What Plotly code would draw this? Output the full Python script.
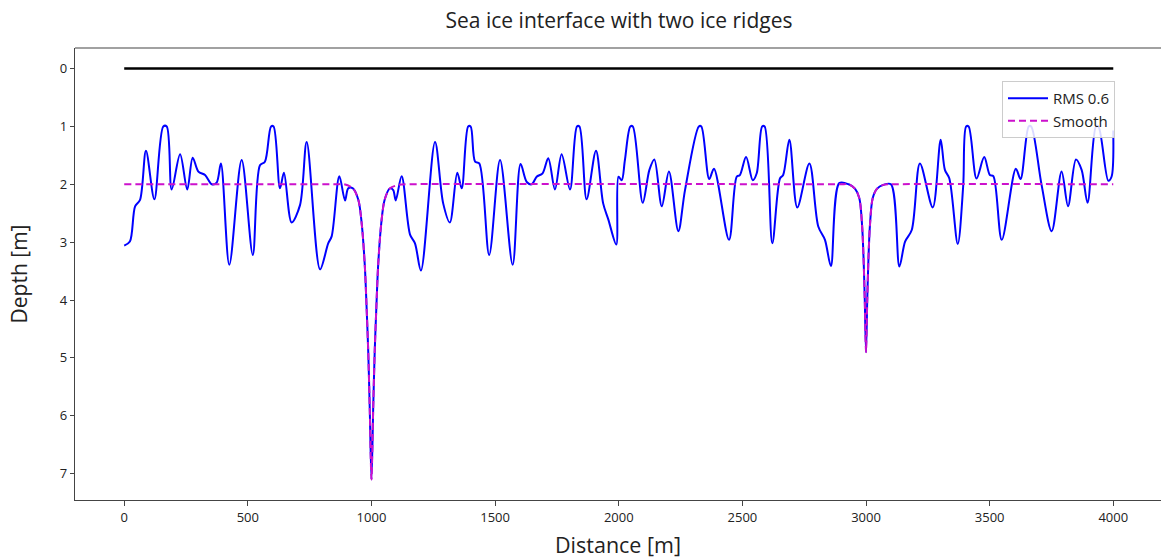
import plotly.graph_objects as go

# Sea-ice surface (depth 0)
surface_distance = [0, 4000]
surface_depth = [0, 0]

# Rough interface, RMS 0.6 (distance in m, depth in m)
rms_distance = [
    0, 23, 44, 64, 88, 122, 158, 172, 192, 226, 255, 277, 300, 327, 354, 374, 391,
    425, 475, 520, 549, 569, 594, 604, 630, 646, 677, 711, 738, 792, 825, 839, 870,
    893, 906,
    925, 947, 961, 973, 980, 987, 993, 1000, 1007, 1013, 1020, 1027, 1039, 1053, 1075,
    1088, 1098, 1122, 1156, 1176, 1200, 1257, 1290, 1317, 1347, 1365, 1391, 1401,
    1419, 1436, 1476, 1520, 1571, 1603, 1628, 1648, 1668, 1692, 1715, 1742, 1769,
    1803, 1831, 1841, 1870, 1908, 1937, 1958, 1990, 1999, 2012, 2025, 2047, 2057,
    2097, 2124, 2144, 2174, 2203, 2241, 2268, 2324, 2334, 2366, 2385, 2446, 2477,
    2490, 2515, 2542, 2558, 2580, 2590, 2621, 2652, 2665, 2690, 2722, 2771, 2807,
    2834, 2858, 2892, 2930,
    2956, 2973, 2984, 2990, 2995, 3000, 3005, 3010, 3016, 3027, 3044, 3070,
    3101, 3135, 3158, 3185, 3218, 3270, 3302, 3319, 3337, 3371, 3393, 3405, 3415,
    3447, 3478, 3501, 3515, 3549, 3606, 3625, 3658, 3668, 3710, 3751, 3791, 3817,
    3849, 3872, 3896, 3930, 3940, 3980, 3993, 4000,
]
rms_depth = [
    3.06, 2.99, 2.38, 2.27, 1.42, 2.26, 1.0, 1.0, 2.09, 1.48, 2.09, 1.54, 1.78, 1.84, 2.0, 1.97, 1.64,
    3.39, 1.58, 3.22, 1.67, 1.61, 1.0, 1.0, 2.07, 1.80, 2.66, 2.36, 1.27, 3.47, 3.02, 2.90, 1.86,
    2.28, 2.07,
    2.07, 2.27, 2.70, 3.4, 4.1, 4.9, 5.87, 7.1, 5.87, 4.9, 4.1, 3.4, 2.70, 2.27, 2.07,
    2.1, 2.28, 1.86, 2.87, 3.02, 3.49, 1.27, 2.33, 2.66, 1.80, 2.07, 1.0, 1.0,
    1.61, 1.64, 3.22, 1.58, 3.39, 1.65, 1.96, 2.0, 1.87, 1.81, 1.55, 2.09, 1.48,
    2.09, 1.0, 1.0, 2.26, 1.42, 2.33, 2.61, 3.04, 1.87, 1.93, 1.58, 1.0, 1.0,
    2.32, 1.75, 1.57, 2.38, 1.78, 2.81, 2.1, 1.0, 1.0, 1.91, 1.73, 2.96, 1.87,
    1.84, 1.53, 1.93, 1.81, 1.0, 1.0, 3.02, 1.90, 1.84, 1.23, 2.40, 1.64, 2.73,
    2.96, 3.41, 1.98, 2.0,
    2.08, 2.24, 2.70, 3.27, 4.0, 4.9, 4.0, 3.27, 2.70, 2.24, 2.08, 2.01,
    2.0, 3.42, 2.99, 2.79, 1.64, 2.40, 1.23, 1.75, 1.90, 3.03, 2.03, 1.0, 1.0,
    1.90, 1.53, 1.84, 1.86, 2.96, 1.73, 1.91, 1.0, 1.0, 2.01, 2.81, 1.78, 2.38,
    1.57, 1.75, 2.32, 1.0, 1.0, 1.94, 1.87, 1.07,
]

# Smooth interface with two ridges
smooth_distance = [
    0, 850, 890, 925, 947, 961, 973, 980, 987, 993, 1000, 1007, 1013, 1020, 1027,
    1039, 1053, 1075, 1110, 1150, 2850, 2900, 2930, 2956, 2973, 2984, 2990, 2995,
    3000, 3005, 3010, 3016, 3027, 3044, 3070, 3110, 4000,
]
smooth_depth = [
    2.0, 2.0, 2.0, 2.07, 2.27, 2.70, 3.4, 4.1, 4.9, 5.87, 7.1, 5.87, 4.9, 4.1, 3.4,
    2.70, 2.27, 2.07, 2.01, 2.0, 2.0, 2.0, 2.0, 2.08, 2.24, 2.70, 3.27, 4.0,
    4.9, 4.0, 3.27, 2.70, 2.24, 2.08, 2.01, 2.0, 2.0,
]

x_ticks = [0, 500, 1000, 1500, 2000, 2500, 3000, 3500, 4000]
y_ticks = [0, 1, 2, 3, 4, 5, 6, 7]

FONT = "Open Sans"
AXIS_COLOR = "#444444"
TEXT_COLOR = "#222222"

fig = go.Figure()
fig.add_trace(go.Scatter(
    x=surface_distance, y=surface_depth, mode="lines",
    line=dict(color="black", width=2.5), showlegend=False, hoverinfo="skip",
))
fig.add_trace(go.Scatter(
    x=rms_distance, y=rms_depth, mode="lines", name="RMS 0.6",
    line=dict(color="#0000ff", width=2, shape="spline", smoothing=0.9),
))
fig.add_trace(go.Scatter(
    x=smooth_distance, y=smooth_depth, mode="lines", name="Smooth",
    line=dict(color="#cc11cc", width=2, dash="7px,4px", shape="spline", smoothing=0.8),
))

fig.update_layout(
    width=1161, height=559,
    margin=dict(l=75, r=0, t=48, b=59),
    paper_bgcolor="white", plot_bgcolor="white",
    font=dict(family=FONT, color=TEXT_COLOR, size=13),
    title=dict(
        text="Sea ice interface with two ice ridges",
        font=dict(family=FONT, size=21, color=TEXT_COLOR),
        x=619 / 1161, xref="container", xanchor="center",
        y=1 - 21 / 559, yref="container", yanchor="middle",
    ),
    legend=dict(
        x=(1002 - 75) / 1086, xanchor="left",
        y=(500 - 81) / 452, yanchor="top",
        bgcolor="rgba(255,255,255,0.85)", bordercolor="#cccccc", borderwidth=1,
        font=dict(family=FONT, size=15, color=TEXT_COLOR),
        itemwidth=40, tracegroupgap=0,
    ),
    showlegend=True,
    shapes=[dict(
        type="line", xref="paper", yref="paper", x0=0, x1=1, y0=1, y1=1,
        line=dict(color=AXIS_COLOR, width=1.2), layer="above",
    )],
)
fig.update_xaxes(
    range=[-199, 4193], tickvals=x_ticks, ticktext=[str(v) for v in x_ticks],
    showgrid=False, zeroline=False,
    showline=True, linecolor=AXIS_COLOR, linewidth=1.2, mirror=False,
    ticks="outside", ticklen=5, tickcolor=AXIS_COLOR, tickwidth=1,
    tickfont=dict(family=FONT, size=13, color=TEXT_COLOR),
    title=dict(text="Distance [m]", font=dict(family=FONT, size=21.5, color=TEXT_COLOR), standoff=15),
)
fig.update_yaxes(
    range=[7.455, -0.355], tickvals=y_ticks, ticktext=[str(v) for v in y_ticks],
    showgrid=False, zeroline=False,
    showline=True, linecolor=AXIS_COLOR, linewidth=1.2, mirror=False,
    ticks="outside", ticklen=4, tickcolor=AXIS_COLOR, tickwidth=1,
    tickfont=dict(family=FONT, size=13, color=TEXT_COLOR),
    title=dict(text="Depth [m]", font=dict(family=FONT, size=21, color=TEXT_COLOR), standoff=26),
)

fig.write_html("out.html", config={"displayModeBar": False})
